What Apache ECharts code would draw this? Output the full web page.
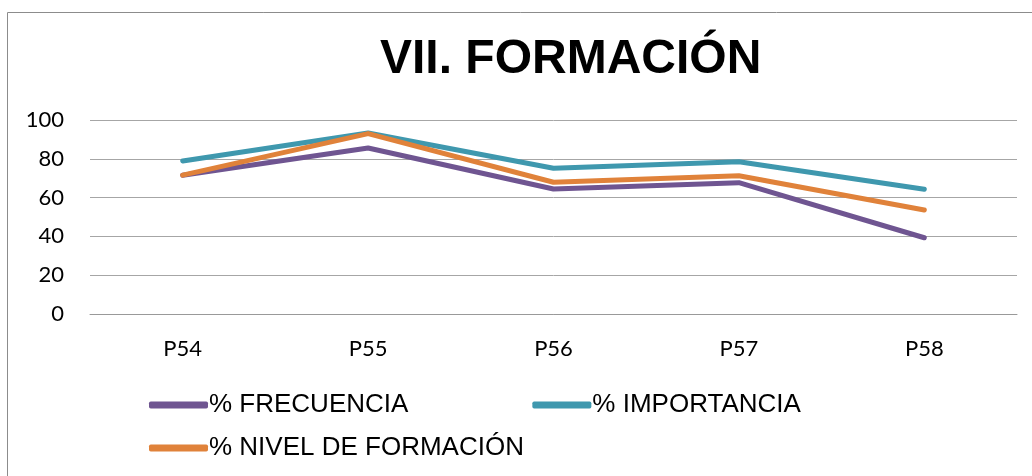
<!DOCTYPE html>
<html>
<head>
<meta charset="utf-8">
<script src="https://cdn.jsdelivr.net/npm/echarts@6/dist/echarts.min.js"></script>
<style>
  html, body { margin: 0; padding: 0; background: #fff; }
  #main { width: 1032px; height: 476px; }
</style>
</head>
<body>
<div id="main"></div>
<script>
// categorias y valores
var categorias = ['P54', 'P55', 'P56', 'P57', 'P58'];
var frecuencia = [71.5, 85.6, 64.4, 67.7, 39.3];
var importancia = [78.9, 93.3, 75.1, 78.5, 64.3];
var nivelFormacion = [71.6, 93.0, 67.9, 71.3, 53.6];

var colores = ['#6f5591', '#3f98ae', '#e0823a'];

var myChart = echarts.init(document.getElementById('main'));
var option = {
    animation: false,
    color: colores,
    title: {
        text: 'VII. FORMACIÓN',
        left: 375,
        top: 31,
        textStyle: {
            fontFamily: 'Liberation Sans',
            fontWeight: 'bold',
            fontSize: 48,
            color: '#000'
        }
    },
    graphic: [{
        type: 'rect',
        shape: { x: 7.5, y: 12.5, width: 1040, height: 480 },
        style: { fill: 'none', stroke: '#8c8c8c', lineWidth: 1 }
    }],
    legend: [{
        data: ['% FRECUENCIA', '% IMPORTANCIA'],
        left: 144,
        top: 387,
        icon: 'roundRect',
        itemWidth: 59,
        itemHeight: 7,
        itemGap: 124,
        textStyle: { fontFamily: 'Liberation Sans', fontSize: 26, color: '#000', padding: [0, 0, 0, -4] }
    }, {
        data: ['% NIVEL DE FORMACIÓN'],
        left: 144,
        top: 430,
        icon: 'roundRect',
        itemWidth: 59,
        itemHeight: 7,
        textStyle: { fontFamily: 'Liberation Sans', fontSize: 26, color: '#000', padding: [0, 0, 0, -4] }
    }],
    grid: {
        left: 90,
        right: 15,
        top: 120,
        bottom: 162,
        containLabel: false
    },
    xAxis: {
        type: 'category',
        data: categorias,
        boundaryGap: true,
        axisLine: { lineStyle: { color: '#999', width: 1 } },
        axisTick: { show: false },
        axisLabel: {
            margin: 24,
            fontFamily: 'Lato',
            fontSize: 22,
            color: '#000'
        }
    },
    yAxis: {
        type: 'value',
        min: 0,
        max: 100,
        interval: 20,
        axisLine: { show: false },
        axisTick: { show: false },
        splitLine: { lineStyle: { color: '#a6a6a6', width: 1 } },
        axisLabel: {
            margin: 26,
            fontFamily: 'Lato',
            fontSize: 22,
            color: '#000'
        }
    },
    series: [
        {
            name: '% FRECUENCIA',
            type: 'line',
            symbol: 'none',
            lineStyle: { width: 5, cap: 'round', join: 'round' },
            data: frecuencia
        },
        {
            name: '% IMPORTANCIA',
            type: 'line',
            symbol: 'none',
            lineStyle: { width: 5, cap: 'round', join: 'round' },
            data: importancia
        },
        {
            name: '% NIVEL DE FORMACIÓN',
            type: 'line',
            symbol: 'none',
            lineStyle: { width: 5, cap: 'round', join: 'round' },
            data: nivelFormacion
        }
    ]
};
myChart.setOption(option);
</script>
</body>
</html>
